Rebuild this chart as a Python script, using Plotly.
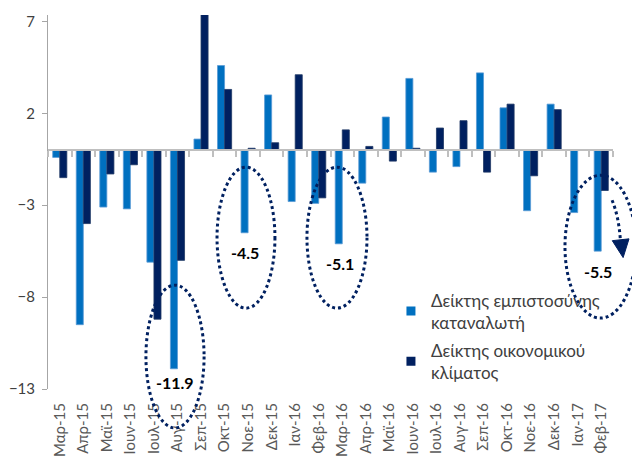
import plotly.graph_objects as go

months = ["Μαρ-15", "Απρ-15", "Μαϊ-15", "Ιουν-15", "Ιουλ-15", "Αυγ-15", "Σεπ-15", "Οκτ-15",
          "Νοε-15", "Δεκ-15", "Ιαν-16", "Φεβ-16", "Μαρ-16", "Απρ-16", "Μαϊ-16", "Ιουν-16",
          "Ιουλ-16", "Αυγ-16", "Σεπ-16", "Οκτ-16", "Νοε-16", "Δεκ-16", "Ιαν-17", "Φεβ-17"]

consumer_conf = [-0.4, -9.5, -3.1, -3.2, -6.1, -11.9, 0.6, 4.6,
                 -4.5, 3.0, -2.8, -2.9, -5.1, -1.8, 1.8, 3.9,
                 -1.2, -0.9, 4.2, 2.3, -3.3, 2.5, -3.4, -5.5]

econ_climate = [-1.5, -4.0, -1.3, -0.8, -9.2, -6.0, 7.8, 3.3,
                0.1, 0.4, 4.1, -2.6, 1.1, 0.2, -0.6, 0.1,
                1.2, 1.6, -1.2, 2.5, -1.4, 2.2, 0.0, -2.2]

series_names = ["Δείκτης εμπιστοσύνης<br>καταναλωτή", "Δείκτης οικονομικού<br>κλίματος"]
highlight_labels = ["-11.9", "-4.5", "-5.1", "-5.5"]

LIGHT = "#0070C0"
DARK = "#002060"
FONT = "Lato"
YMIN, YMAX = -13, 7.35
N = len(months)


def px_(xi):
    return (xi + 0.5) / N


def py_(v):
    return (v - YMIN) / (YMAX - YMIN)


fig = go.Figure()
fig.add_trace(go.Bar(x=months, y=consumer_conf, name=series_names[0], marker_color=LIGHT,
                     marker_line=dict(color="#5B9BD5", width=0.8), showlegend=False))
fig.add_trace(go.Bar(x=months, y=econ_climate, name=series_names[1], marker_color=DARK,
                     marker_line=dict(color="#1F3864", width=0.8), showlegend=False))
# legend entries with small square symbols
for nm, col, grp in zip(series_names, [LIGHT, DARK], ["a", "b"]):
    fig.add_trace(go.Scatter(x=[None], y=[None], mode="markers", name=nm, legendgroup=grp,
                             marker=dict(symbol="square", size=9, color=col)))
# helper trace for the zero-crossing category axis
fig.add_trace(go.Scatter(x=months, y=[None] * N, xaxis="x2", mode="markers",
                         showlegend=False, hoverinfo="skip"))

shapes = []
ellipses = [  # (x0, x1, y0, y1) in category index / data units
    (3.66, 6.13, -7.35, -15.12),
    (6.68, 9.14, -0.93, -8.6),
    (10.5, 13.05, -0.93, -8.6),
    (21.46, 24.48, -1.37, -9.14),
]
for x0, x1, y0, y1 in ellipses:
    shapes.append(dict(type="circle", xref="paper", yref="paper",
                       x0=px_(x0), x1=px_(x1), y0=py_(y1), y1=py_(y0),
                       line=dict(color=DARK, width=3, dash="dot")))
# arrow inside last ellipse
shapes.append(dict(type="path", xref="paper", yref="paper",
                   path=f"M{px_(23.46)},{py_(-2.73)} Q{px_(23.75)},{py_(-3.6)} {px_(23.82)},{py_(-5.0)}",
                   line=dict(color=DARK, width=3, dash="dot")))
shapes.append(dict(type="path", xref="paper", yref="paper",
                   path=f"M{px_(23.47)},{py_(-4.93)} L{px_(24.18)},{py_(-4.83)} L{px_(23.93)},{py_(-5.85)} Z",
                   fillcolor=DARK, line=dict(color=DARK, width=1)))

label_pos = [(4.9, -12.67), (7.87, -5.56), (11.9, -6.15), (22.86, -6.59)]
annotations = []
for txt, (xi, yv) in zip(highlight_labels, label_pos):
    annotations.append(dict(x=px_(xi), y=py_(yv), xref="paper", yref="paper", text=f"<b>{txt}</b>",
                            xanchor="center", yanchor="middle", showarrow=False,
                            font=dict(family=FONT, size=16, color="#000000")))

# The page body has an 8px default margin, so the figure is sized and offset to compensate.
fig.update_layout(
    width=632, height=448,
    margin=dict(l=40, r=27, t=7, b=67, autoexpand=False),
    paper_bgcolor="white", plot_bgcolor="white",
    barmode="group", bargap=0.4, bargroupgap=0.0,
    font=dict(family=FONT, color="#595959"),
    shapes=shapes, annotations=annotations,
    legend=dict(x=0.607, y=0.285, xanchor="left", yanchor="top", bgcolor="rgba(0,0,0,0)",
                font=dict(family=FONT, size=17, color="#404040"), tracegroupgap=3),
    xaxis=dict(type="category", range=[-0.5, N - 0.5], showline=False, ticks="",
               tickangle=-90, tickfont=dict(family=FONT, size=15, color="#595959"),
               showgrid=False, zeroline=False, ticklabelstandoff=10, automargin=False),
    xaxis2=dict(type="category", range=[-0.5, N - 0.5], overlaying="x", anchor="free",
                position=py_(0), showline=True, linecolor="#BFBFBF", linewidth=1.5,
                ticks="outside", tickson="boundaries", ticklen=6, tickcolor="#BFBFBF",
                tickwidth=1.5, showticklabels=False, showgrid=False, zeroline=False,
                automargin=False),
    yaxis=dict(range=[YMIN, YMAX], tick0=-13, dtick=5, showline=True, linecolor="#A6A6A6",
               ticks="outside", ticklen=5, tickcolor="#A6A6A6", showgrid=False, zeroline=False,
               tickfont=dict(family=FONT, size=15, color="#404040"), ticklabelstandoff=4,
               automargin=False),
)

fig.write_html("out.html")
